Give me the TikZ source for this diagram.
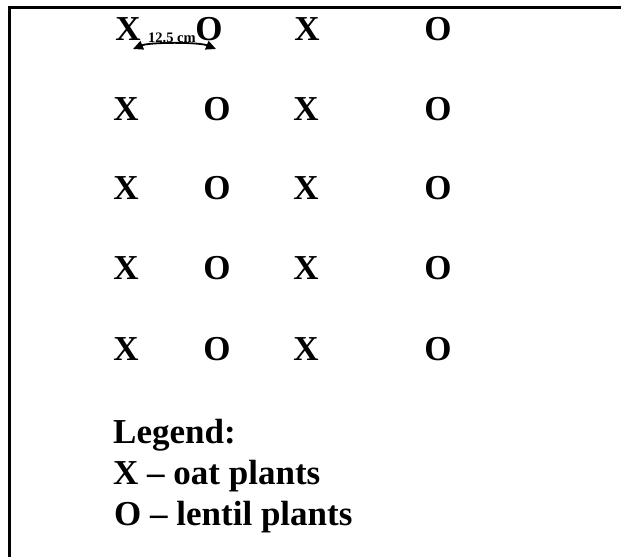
\documentclass[tikz,border=0pt]{standalone}
\usepackage{fontspec}
\setmainfont{Liberation Serif}
\usetikzlibrary{arrows.meta}
\begin{document}
\begin{tikzpicture}[x=1pt,y=-1pt,
  plantmark/.style={font=\fontsize{35}{35}\selectfont\bfseries,inner sep=0pt,anchor=center},
  legendtxt/.style={font=\fontsize{35}{35}\selectfont\bfseries,inner sep=0pt,anchor=base west},
  frameline/.style={line width=3pt}]
\useasboundingbox (0,0) rectangle (621,557);
\draw[frameline] (9,557) -- (9,7) -- (621,7);
% row 1
\node[plantmark] (r1a) at (128,29) {X};
\node[plantmark] (r1b) at (209,29) {O};
\node[plantmark] (r1c) at (307,29) {X};
\node[plantmark] (r1d) at (438,29) {O};
\foreach \r/\y in {2/109,3/188,4/268,5/349}{
  \node[plantmark] (r\r a) at (126,\y) {X};
  \node[plantmark] (r\r b) at (217,\y) {O};
  \node[plantmark] (r\r c) at (306,\y) {X};
  \node[plantmark] (r\r d) at (438,\y) {O};
}
% distance arrow
\coordinate (al) at (133,49);
\coordinate (ar) at (216,49);
\draw[line width=1.8pt,{Triangle[length=10pt,width=9pt]}-{Triangle[length=10pt,width=9pt]}] (al) .. controls (150,42) and (199,42) .. (ar);
\node[font=\fontsize{14.5}{15}\selectfont\bfseries,inner sep=0pt,anchor=base] (lbl) at (172,42) {12.5 cm};
% legend
\node[legendtxt] (lg1) at (113,443) {Legend:};
\node[legendtxt] (lg2) at (113,484) {X -- oat plants};
\node[legendtxt] (lg3) at (114,525) {O -- lentil plants};
\end{tikzpicture}
\end{document}
